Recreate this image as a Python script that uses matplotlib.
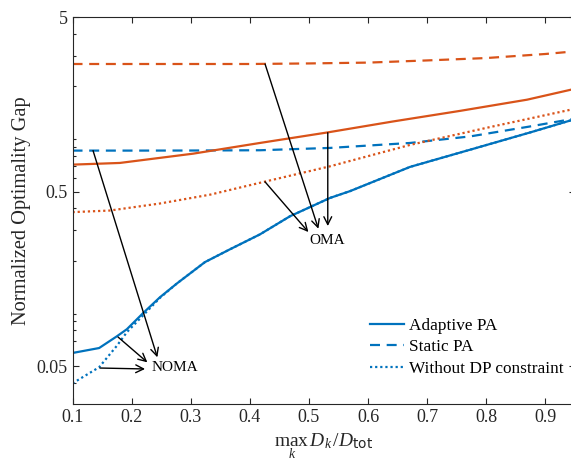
import numpy as np
import matplotlib
matplotlib.use("Agg")
import matplotlib.pyplot as plt
from matplotlib.ticker import LogLocator, FixedLocator, NullFormatter

plt.rcParams['font.family'] = ['Liberation Serif', 'DejaVu Serif']
plt.rcParams['mathtext.fontset'] = 'custom'
plt.rcParams['mathtext.rm'] = 'Liberation Serif'
plt.rcParams['mathtext.it'] = 'Liberation Serif:italic'
plt.rcParams['mathtext.bf'] = 'Liberation Serif:bold'
plt.rcParams['mathtext.sf'] = 'DejaVu Sans'

blue = '#0072BD'
orange = '#D95319'
grey = '#262626'

# NOMA curves
x_noma_ad = [0.1, 0.145, 0.175, 0.192, 0.22, 0.248, 0.277, 0.324, 0.366, 0.417,
             0.468, 0.536, 0.569, 0.671, 0.773, 0.874, 0.95]
y_noma_ad = [0.0594, 0.0634, 0.074, 0.0813, 0.101, 0.124, 0.149, 0.197, 0.233, 0.284,
             0.361, 0.46, 0.502, 0.692, 0.869, 1.09, 1.30]
x_noma_st = [0.1, 0.2, 0.3, 0.417, 0.536, 0.671, 0.773, 0.874, 0.95]
y_noma_st = [0.858, 0.858, 0.859, 0.862, 0.889, 0.949, 1.035, 1.18, 1.31]
x_noma_nodp = [0.1, 0.145, 0.175, 0.192, 0.22, 0.248, 0.277, 0.324, 0.366, 0.417,
               0.468, 0.536, 0.569, 0.671, 0.773, 0.874, 0.95]
y_noma_nodp = [0.0398, 0.0492, 0.0653, 0.0782, 0.098, 0.123, 0.149, 0.197, 0.233, 0.284,
               0.361, 0.46, 0.502, 0.692, 0.869, 1.09, 1.30]

# OMA curves
x_oma_ad = [0.1, 0.18, 0.304, 0.417, 0.531, 0.642, 0.756, 0.869, 0.95]
y_oma_ad = [0.713, 0.729, 0.824, 0.949, 1.09, 1.26, 1.45, 1.68, 1.94]
x_oma_st = [0.1, 0.2, 0.3, 0.4, 0.5, 0.6, 0.7, 0.8, 0.9, 0.95]
y_oma_st = [2.69, 2.69, 2.69, 2.69, 2.71, 2.74, 2.82, 2.91, 3.07, 3.18]
x_oma_nodp = [0.1, 0.163, 0.248, 0.333, 0.417, 0.536, 0.671, 0.806, 0.95]
y_oma_nodp = [0.381, 0.389, 0.427, 0.48, 0.561, 0.698, 0.925, 1.17, 1.49]

xticks = [0.1, 0.2, 0.3, 0.4, 0.5, 0.6, 0.7, 0.8, 0.9]
yticks = [0.05, 0.5, 5]
ytick_labels = ['0.05', '0.5', '5']
legend_labels = ['Adaptive PA', 'Static PA', 'Without DP constraint']

fig = plt.figure(figsize=(5.71, 4.65), dpi=100)
ax = fig.add_axes([0.127, 0.1312, 0.88, 0.8322])

lw = 1.6
dash = (0, (4.5, 3))
dot = (0, (1, 1.3))
h1, = ax.plot(x_noma_ad, y_noma_ad, color=blue, lw=lw)
h2, = ax.plot(x_noma_st, y_noma_st, color=blue, lw=lw, linestyle=dash)
h3, = ax.plot(x_noma_nodp, y_noma_nodp, color=blue, lw=lw, linestyle=dot)
ax.plot(x_oma_ad, y_oma_ad, color=orange, lw=lw)
ax.plot(x_oma_st, y_oma_st, color=orange, lw=lw, linestyle=dash)
ax.plot(x_oma_nodp, y_oma_nodp, color=orange, lw=lw, linestyle=dot)

ax.set_yscale('log')
ax.set_xlim(0.1, 0.95)
ax.set_ylim(0.0303, 5)
ax.xaxis.set_major_locator(FixedLocator(xticks))
ax.set_xticklabels([f'{t:g}' for t in xticks])
ax.yaxis.set_major_locator(FixedLocator(yticks))
ax.set_yticklabels(ytick_labels)
ax.yaxis.set_minor_locator(LogLocator(base=10, subs=np.arange(1, 10)))
ax.yaxis.set_minor_formatter(NullFormatter())
ax.tick_params(which='both', direction='in', top=True, right=True,
               colors=grey, labelsize=13, width=0.8)
ax.tick_params(which='major', length=4.5)
ax.tick_params(which='minor', length=2.5)
for s in ax.spines.values():
    s.set_color(grey)
    s.set_linewidth(0.8)

ax.set_ylabel('Normalized Optimality Gap', fontsize=14.7, color=grey)
ax.set_xlabel(r'$\max_{k}\, D_k/D_{\mathsf{tot}}$', fontsize=14, color=grey)

arrow = dict(arrowstyle='->', color='black', lw=1, shrinkA=0, shrinkB=0,
             mutation_scale=14)
# NOMA annotations
ax.text(0.273, 0.0493, 'NOMA', fontsize=11, ha='center', va='center')
ax.annotate('', xy=(0.2435, 0.0561), xytext=(0.1347, 0.858), arrowprops=arrow)
ax.annotate('', xy=(0.2266, 0.0525), xytext=(0.177, 0.0733), arrowprops=arrow)
ax.annotate('', xy=(0.2227, 0.0481), xytext=(0.1465, 0.0487), arrowprops=arrow)
# OMA annotations
ax.text(0.5306, 0.262, 'OMA', fontsize=11, ha='center', va='center')
ax.annotate('', xy=(0.5159, 0.306), xytext=(0.4257, 2.69), arrowprops=arrow)
ax.annotate('', xy=(0.5318, 0.317), xytext=(0.5318, 1.087), arrowprops=arrow)
ax.annotate('', xy=(0.499, 0.293), xytext=(0.4257, 0.568), arrowprops=arrow)

ax.legend([h1, h2, h3], legend_labels, loc='upper left',
          bbox_to_anchor=(0.592, 0.222), frameon=False, fontsize=12.4,
          borderpad=0, borderaxespad=0, labelspacing=0.3,
          handlelength=1.95, handletextpad=0.3)

fig.savefig('out.png', dpi=100)
